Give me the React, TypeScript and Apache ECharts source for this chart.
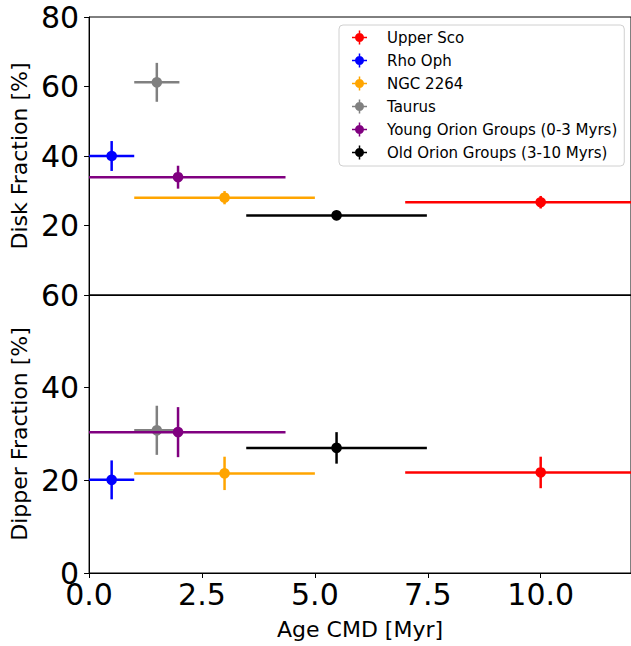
import React, { useEffect, useRef } from "react";
import * as echarts from "echarts";

const groups = [
  "Upper Sco",
  "Rho Oph",
  "NGC 2264",
  "Taurus",
  "Young Orion Groups (0-3 Myrs)",
  "Old Orion Groups (3-10 Myrs)",
];
const groupColors = ["#ff0000", "#0000ff", "#ffa500", "#808080", "#800080", "#000000"];
const ageCMD = [10.0, 0.5, 3.0, 1.5, 1.97, 5.48];
const ageErr = [3.0, 0.5, 2.0, 0.5, 2.38, 2.0];
const diskFrac = [26.7, 40.0, 28.0, 61.2, 33.9, 22.9];
const diskErr = [1.8, 4.3, 1.9, 5.6, 3.3, 1.0];
const dipperFrac = [21.7, 20.1, 21.5, 30.8, 30.4, 27.0];
const dipperErr = [3.4, 4.2, 3.6, 5.3, 5.4, 3.4];

const FONT = "DejaVu Sans";
const LEGEND_ICON =
  "path://M0,6.25 L15,6.25 L15,7.75 L0,7.75 Z M6.75,0 L8.25,0 L8.25,14 L6.75,14 Z M12,7 A4.5,4.5 0 1,1 3,7 A4.5,4.5 0 1,1 12,7 Z M30,7 L30,7.01 L29.99,7.01 Z";

function makeSeries(gridIdx: number, yVals: number[], yErrs: number[]) {
  return groups.map((name, i) => {
    const color = groupColors[i];
    return {
      type: "custom",
      name,
      xAxisIndex: gridIdx,
      yAxisIndex: gridIdx,
      clip: true,
      itemStyle: { color },
      encode: { x: 0, y: 1 },
      data: [[ageCMD[i], yVals[i], ageErr[i], yErrs[i]]],
      renderItem: (params: any, api: any) => {
        const x = api.value(0);
        const y = api.value(1);
        const xe = api.value(2);
        const ye = api.value(3);
        const c = api.coord([x, y]);
        const l = api.coord([x - xe, y]);
        const r = api.coord([x + xe, y]);
        const t = api.coord([x, y + ye]);
        const b = api.coord([x, y - ye]);
        const ls = { stroke: color, lineWidth: 2.5 };
        return {
          type: "group",
          children: [
            { type: "line", shape: { x1: l[0], y1: l[1], x2: r[0], y2: r[1] }, style: ls },
            { type: "line", shape: { x1: t[0], y1: t[1], x2: b[0], y2: b[1] }, style: ls },
            { type: "circle", shape: { cx: c[0], cy: c[1], r: 5.3 }, style: { fill: color } },
          ],
        };
      },
    };
  });
}

export default function App() {
  const ref = useRef<HTMLDivElement>(null);
  useEffect(() => {
    if (!ref.current) return;
    const chart = echarts.init(ref.current, null, { renderer: "svg" });
    const axisCommon = {
      axisLine: { show: true, lineStyle: { color: "#000", width: 1 } },
      axisTick: { show: true, inside: false, length: 5, lineStyle: { color: "#000" } },
      splitLine: { show: false },
    };
    const option: any = {
      animation: false,
      backgroundColor: "#fff",
      textStyle: { fontFamily: FONT },
      grid: [
        { left: 88, top: 17, width: 546, height: 278, show: true, borderColor: "#000", borderWidth: 1, backgroundColor: "transparent" },
        { left: 88, top: 295, width: 546, height: 278, show: true, borderColor: "#000", borderWidth: 1, backgroundColor: "transparent" },
      ],
      xAxis: [
        {
          ...axisCommon,
          type: "value",
          gridIndex: 0,
          min: 0,
          max: 12,
          interval: 2.5,
          axisTick: { show: false },
          axisLabel: { show: false },
        },
        {
          ...axisCommon,
          type: "value",
          gridIndex: 1,
          min: 0,
          max: 12,
          interval: 2.5,
          name: "Age CMD [Myr]",
          nameLocation: "middle",
          nameGap: 45,
          nameTextStyle: { fontFamily: FONT, fontSize: 22, color: "#000" },
          axisLabel: {
            fontFamily: FONT,
            fontSize: 30,
            color: "#000",
            margin: 6,
            showMaxLabel: false,
            formatter: (v: number) => v.toFixed(1),
          },
        },
      ],
      yAxis: [
        {
          ...axisCommon,
          type: "value",
          gridIndex: 0,
          min: 0,
          max: 80,
          interval: 20,
          name: "Disk Fraction [%]",
          nameLocation: "middle",
          nameGap: 57,
          nameTextStyle: { fontFamily: FONT, fontSize: 22, color: "#000" },
          axisLabel: { fontFamily: FONT, fontSize: 30, color: "#000", margin: 10, showMinLabel: false },
        },
        {
          ...axisCommon,
          type: "value",
          gridIndex: 1,
          min: 0,
          max: 60,
          interval: 20,
          name: "Dipper Fraction [%]",
          nameLocation: "middle",
          nameGap: 57,
          nameTextStyle: { fontFamily: FONT, fontSize: 22, color: "#000" },
          axisLabel: { fontFamily: FONT, fontSize: 30, color: "#000", margin: 10 },
        },
      ],
      legend: {
        left: 339,
        top: 25,
        orient: "vertical",
        padding: [5, 7, 6, 13],
        itemGap: 8,
        itemWidth: 30,
        itemHeight: 14,
        borderColor: "#d0d0d0",
        borderWidth: 1,
        borderRadius: 4,
        backgroundColor: "rgba(255,255,255,0.8)",
        textStyle: { fontFamily: FONT, fontSize: 15, color: "#000", padding: [0, 0, 0, 0] },
        data: groups.map((name) => ({ name, icon: LEGEND_ICON })),
      },
      series: [...makeSeries(0, diskFrac, diskErr), ...makeSeries(1, dipperFrac, dipperErr)],
    };
    chart.setOption(option);
    return () => chart.dispose();
  }, []);
  return (
    <div
      ref={ref}
      style={{ position: "fixed", left: 0, top: 0, width: 631, height: 646, background: "#fff" }}
    />
  );
}
